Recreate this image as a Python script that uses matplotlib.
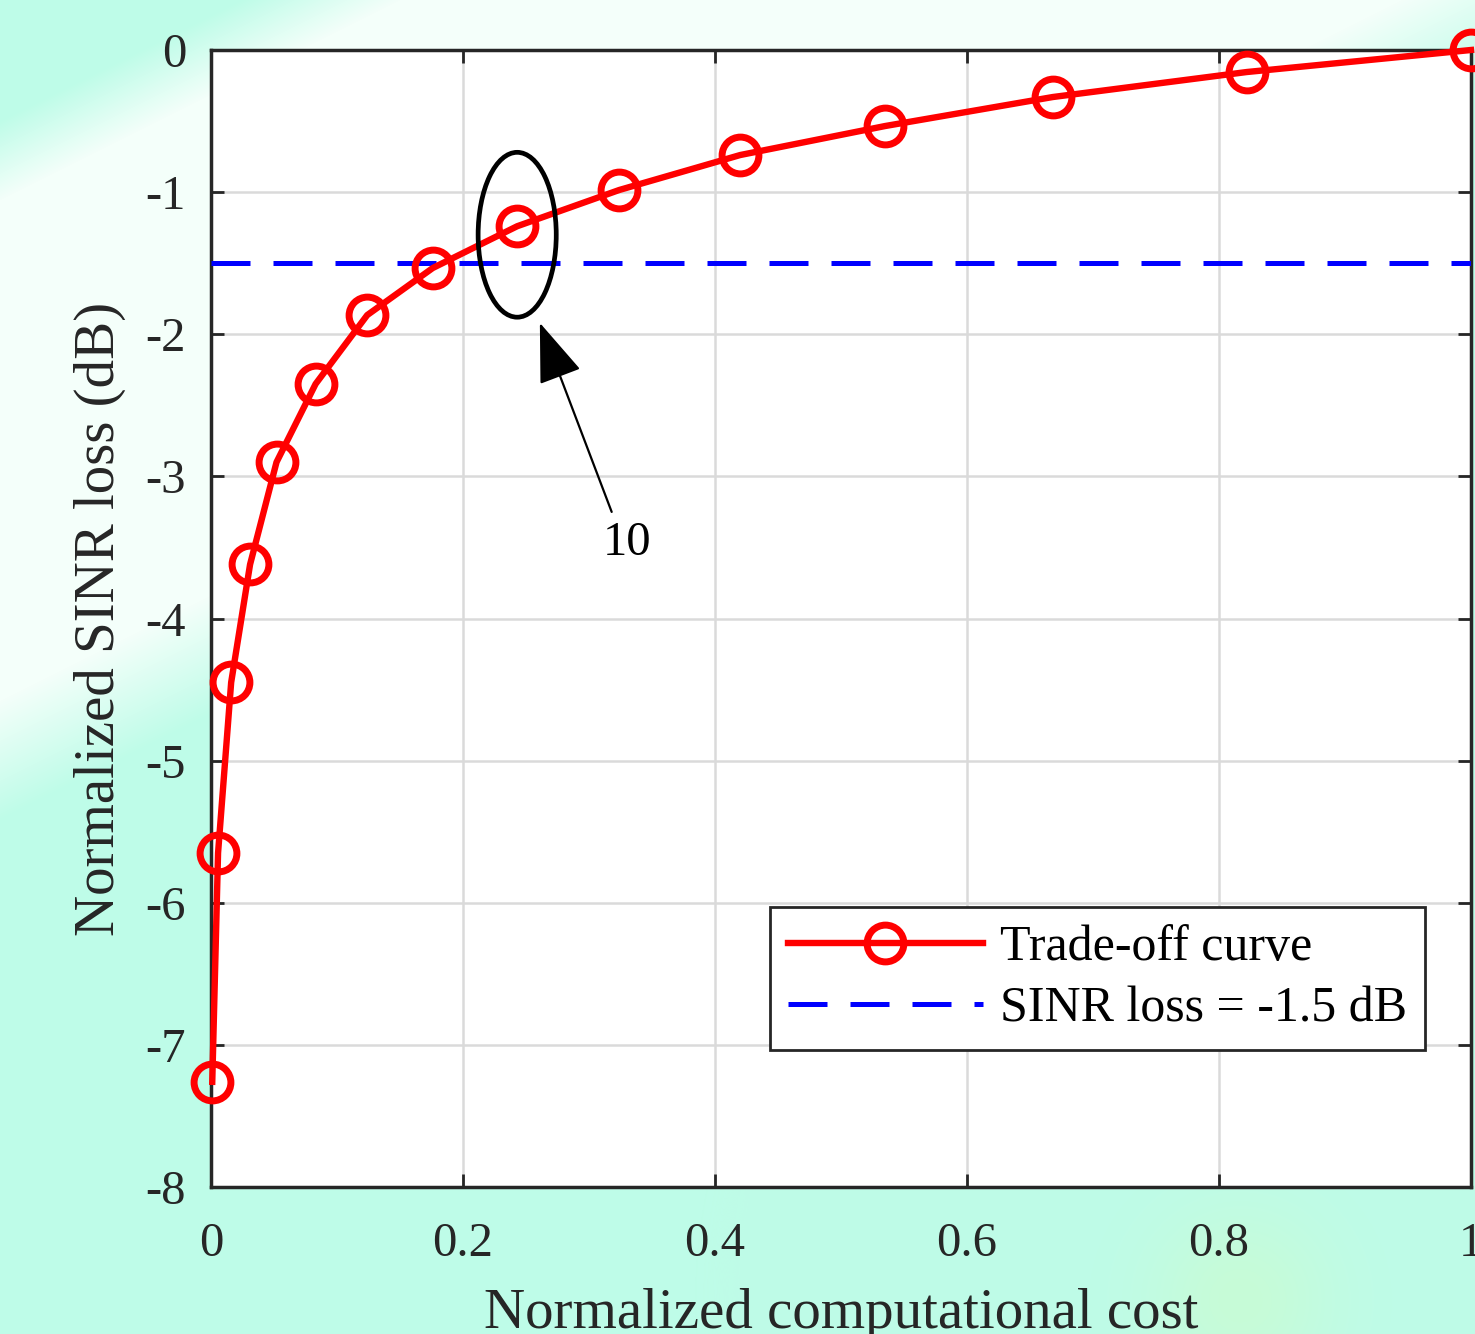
import numpy as np
import matplotlib
matplotlib.use('Agg')
from matplotlib import pyplot as plt
from matplotlib.patches import Ellipse

plt.rcParams['font.family'] = ['Liberation Serif', 'DejaVu Serif']
plt.rcParams['axes.unicode_minus'] = False

# Trade-off curve
cost = [0.001, 0.0056, 0.016, 0.031, 0.052, 0.083, 0.124, 0.176, 0.243,
        0.324, 0.420, 0.535, 0.668, 0.822, 1.0]
sinr_loss = [-7.26, -5.65, -4.45, -3.62, -2.90, -2.35, -1.865, -1.534, -1.24,
             -0.985, -0.739, -0.535, -0.331, -0.155, 0.0]
threshold = -1.5
xticks = [0, 0.2, 0.4, 0.6, 0.8, 1]
xtick_labels = ['0', '0.2', '0.4', '0.6', '0.8', '1']
yticks = [0, -1, -2, -3, -4, -5, -6, -7, -8]

W, H = 1475, 1334
fig = plt.figure(figsize=(W / 100, H / 100), dpi=100)

# soft mint background behind the figure
yy, xx = np.mgrid[0:H, 0:W].astype(float)
mint = np.array([190, 252, 232]) / 255.0
white = np.array([244, 255, 250]) / 255.0
u = yy + 0.5 * xx
w = np.clip((u - 120) / 80, 0, 1) * np.clip((820 - u) / 120, 0, 1)
bg = mint[None, None, :] * (1 - w[..., None]) + white[None, None, :] * w[..., None]
yel = np.exp(-(((xx - 1240) / 90) ** 2 + ((yy - 1300) / 90) ** 2))
bg = bg * (1 - 0.5 * yel[..., None]) + np.array([208, 250, 198])[None, None, :] / 255.0 * 0.5 * yel[..., None]
bg_ax = fig.add_axes([0, 0, 1, 1], zorder=-10)
bg_ax.imshow(bg, aspect='auto', interpolation='bilinear')
bg_ax.axis('off')

ax = fig.add_axes([211 / W, 1 - 1187 / H, 1260 / W, 1137 / H])
ax.set_facecolor('white')

ax.plot(cost, sinr_loss, color='red', lw=4.6, marker='o', markersize=26.5,
        markerfacecolor='none', markeredgewidth=5, clip_on=False, zorder=5,
        label='Trade-off curve')
ax.axhline(threshold, color='blue', lw=3.6, dashes=(7.8, 4.6), zorder=4,
           label='SINR loss = -1.5 dB')

# ellipse around the 10th point and arrow with its label
ax.add_patch(Ellipse((0.243, -1.30), 0.062, 1.16, fill=False, ec='black', lw=3.4, zorder=6))
ax.annotate('', xy=(0.261, -1.92), xytext=(0.318, -3.25),
            arrowprops=dict(arrowstyle='-|>,head_length=38,head_width=14',
                            mutation_scale=1, color='black', lw=1.6,
                            shrinkA=0, shrinkB=0), zorder=6)
ax.text(0.330, -3.47, '10', fontsize=35, ha='center', va='center', color='black')

ax.set_xlim(0, 1)
ax.set_ylim(-8, 0)
ax.set_xticks(xticks)
ax.set_xticklabels(xtick_labels)
ax.set_yticks(yticks)
ax.set_yticklabels([str(v) for v in yticks])
ax.grid(True, color='#dadada', lw=1.8)
ax.set_axisbelow(True)
ax.tick_params(direction='in', length=9.5, width=2, colors='#262626',
               labelsize=35, top=True, right=True)
ax.tick_params(axis='y', pad=18)
ax.tick_params(axis='x', pad=25)
for sp in ax.spines.values():
    sp.set_linewidth(2.5)
    sp.set_color('#262626')

ax.set_xlabel('Normalized computational cost', fontsize=41, color='#262626', labelpad=16)
ax.set_ylabel('Normalized SINR loss (dB)', fontsize=41, color='#262626', labelpad=14)

leg = ax.legend(loc='upper left', bbox_to_anchor=(770 / W, 1 - 907 / H),
                bbox_transform=fig.transFigure, borderaxespad=0, fontsize=36,
                handlelength=3.9, handletextpad=0.35, borderpad=0.35,
                labelspacing=0.3, fancybox=False, framealpha=1)
leg.get_frame().set_edgecolor('#262626')
leg.get_frame().set_linewidth(2)
leg.set_zorder(10)

fig.savefig('out.png', dpi=100)
